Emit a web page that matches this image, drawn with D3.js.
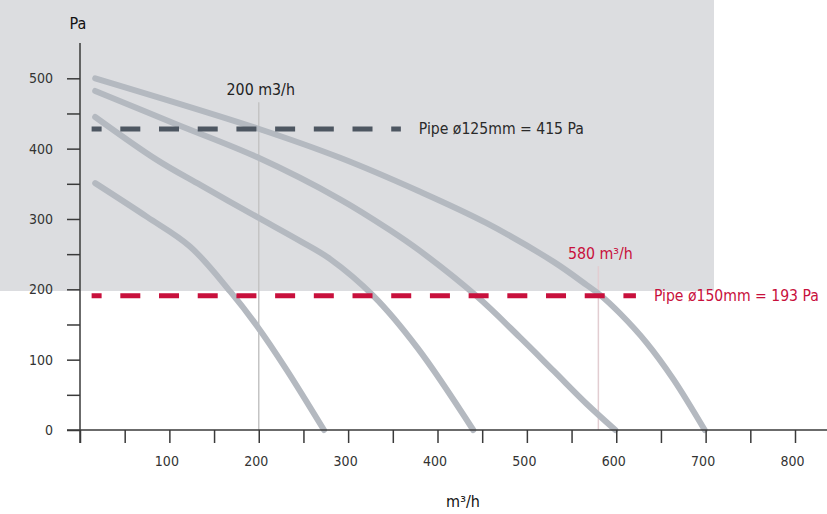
<!DOCTYPE html>
<html><head><meta charset="utf-8">
<script src="https://cdn.jsdelivr.net/npm/d3@7/dist/d3.min.js"></script>
<style>
html,body{margin:0;padding:0;background:#fff;}
svg text{font-family:"DejaVu Sans Condensed","DejaVu Sans",sans-serif;font-stretch:condensed;}
</style></head>
<body>
<svg id="chart" width="827" height="514"></svg>
<script>
// ---- data ----
const flowTicks = [100, 200, 300, 400, 500, 600, 700, 800];
const paTicks = [0, 100, 200, 300, 400, 500];

const curve1Flow = [17, 198, 291, 380, 455, 530, 567, 582, 604, 634, 664, 699];
const curve1Pa   = [500, 429, 387, 339, 294, 239, 206, 192, 166, 124, 72, 0];
const curve2Flow = [17, 107, 198, 291, 347, 380, 444, 492, 530, 567, 599];
const curve2Pa   = [482, 435, 388, 328, 284, 255, 190, 132, 84, 37, 0];
const curve3Flow = [17, 86, 135, 198, 246, 280, 328, 378, 440];
const curve3Pa   = [445, 384, 348, 303, 269, 243, 191, 116, 0];
const curve4Flow = [17, 75, 123, 168, 198, 231, 273];
const curve4Pa   = [351, 303, 261, 197, 148, 86, 0];

const pipeNames  = ["Pipe ø125mm = 415 Pa", "Pipe ø150mm = 193 Pa"];
const pipeLevels = [428, 191];         // Pa, where the dashed lines sit
const pipeFrom   = [13, 13];           // m3/h
const pipeTo     = [359, 622];         // m3/h

const markFlows  = [200, 580];
const markLabels = ["200 m3/h", "580 m³/h"];
const markTopPa  = [466, 233];

// ---- layout ----
const svg = d3.select("#chart");
const x = d3.scaleLinear().domain([0, 800]).range([80, 795]);
const y = d3.scaleLinear().domain([0, 500]).range([430, 78.3]);

// gray background panel
svg.append("rect").attr("x", 0).attr("y", 0).attr("width", 714).attr("height", 291)
  .attr("fill", "#dcdde0");

// vertical marker lines
const markColors = ["#c4c4c4", "#e2cdd1"];
const markTextColors = ["#222", "#c8103c"];
markFlows.forEach((f, i) => {
  svg.append("line").attr("x1", x(f)).attr("x2", x(f))
    .attr("y1", y(markTopPa[i])).attr("y2", y(0))
    .attr("stroke", markColors[i]).attr("stroke-width", 1.5);
});

// curves
const line = d3.line().x(d => x(d[0])).y(d => y(d[1])).curve(d3.curveCatmullRom.alpha(0.5));
[[curve1Flow, curve1Pa], [curve2Flow, curve2Pa], [curve3Flow, curve3Pa], [curve4Flow, curve4Pa]]
  .forEach(([f, p]) => {
    svg.append("path").datum(f.map((v, i) => [v, p[i]]))
      .attr("d", line).attr("fill", "none")
      .attr("stroke", "#b4b9c0").attr("stroke-width", 6)
      .attr("stroke-linecap", "round").attr("stroke-linejoin", "round");
  });

// pipe dashed lines
const pipeColors = ["#4d5661", "#c8103c"];
const pipeTextColors = ["#2a2a2a", "#c8103c"];
pipeLevels.forEach((lv, i) => {
  svg.append("line").attr("x1", x(pipeFrom[i])).attr("x2", x(pipeTo[i]))
    .attr("y1", y(lv)).attr("y2", y(lv))
    .attr("stroke", pipeColors[i]).attr("stroke-width", 5)
    .attr("stroke-dasharray", "20,18.7").attr("stroke-dashoffset", 10);
  svg.append("text").attr("x", x(pipeTo[i]) + 18).attr("y", y(lv) + 5.5)
    .attr("fill", pipeTextColors[i]).attr("font-size", 15.6).text(pipeNames[i]);
});

// marker labels
markFlows.forEach((f, i) => {
  svg.append("text").attr("x", x(f) + 2).attr("y", y(markTopPa[i]) - 7.5)
    .attr("text-anchor", "middle").attr("fill", markTextColors[i])
    .attr("font-size", 15.8).text(markLabels[i]);
});

// axes
const axisColor = "#3a3a3a";
const xAxis = d3.axisBottom(x).tickValues(d3.range(0, 801, 50)).tickSize(13)
  .tickFormat(d => (d % 100 === 0 && d > 0) ? d : "");
const gx = svg.append("g").attr("transform", `translate(0,${y(0)})`).call(xAxis);
gx.select(".domain").remove();
gx.selectAll(".tick line").attr("stroke", axisColor).attr("stroke-width", 1.5);
gx.selectAll(".tick text").attr("fill", "#333").attr("font-size", 14)
  .attr("font-family", null).attr("dx", -3).attr("y", 26);

const yAxis = d3.axisLeft(y).tickValues(d3.range(0, 501, 50)).tickSize(13).tickPadding(14)
  .tickFormat(d => d % 100 === 0 ? d : "");
const gy = svg.append("g").attr("transform", `translate(${x(0)},0)`).call(yAxis);
gy.select(".domain").remove();
gy.selectAll(".tick line").attr("stroke", axisColor).attr("stroke-width", 1.5);
gy.selectAll(".tick text").attr("fill", "#333").attr("font-size", 14).attr("font-family", null);

svg.append("line").attr("x1", 67).attr("x2", 827).attr("y1", y(0)).attr("y2", y(0))
  .attr("stroke", axisColor).attr("stroke-width", 1.5);
svg.append("line").attr("x1", x(0)).attr("x2", x(0)).attr("y1", 43).attr("y2", y(0) + 13)
  .attr("stroke", axisColor).attr("stroke-width", 1.5);

// axis titles
svg.append("text").attr("x", 78).attr("y", 29).attr("text-anchor", "middle")
  .attr("fill", "#111").attr("font-size", 16).text("Pa");
svg.append("text").attr("x", 463).attr("y", 507).attr("text-anchor", "middle")
  .attr("fill", "#111").attr("font-size", 16).text("m³/h");
</script>
</body></html>
